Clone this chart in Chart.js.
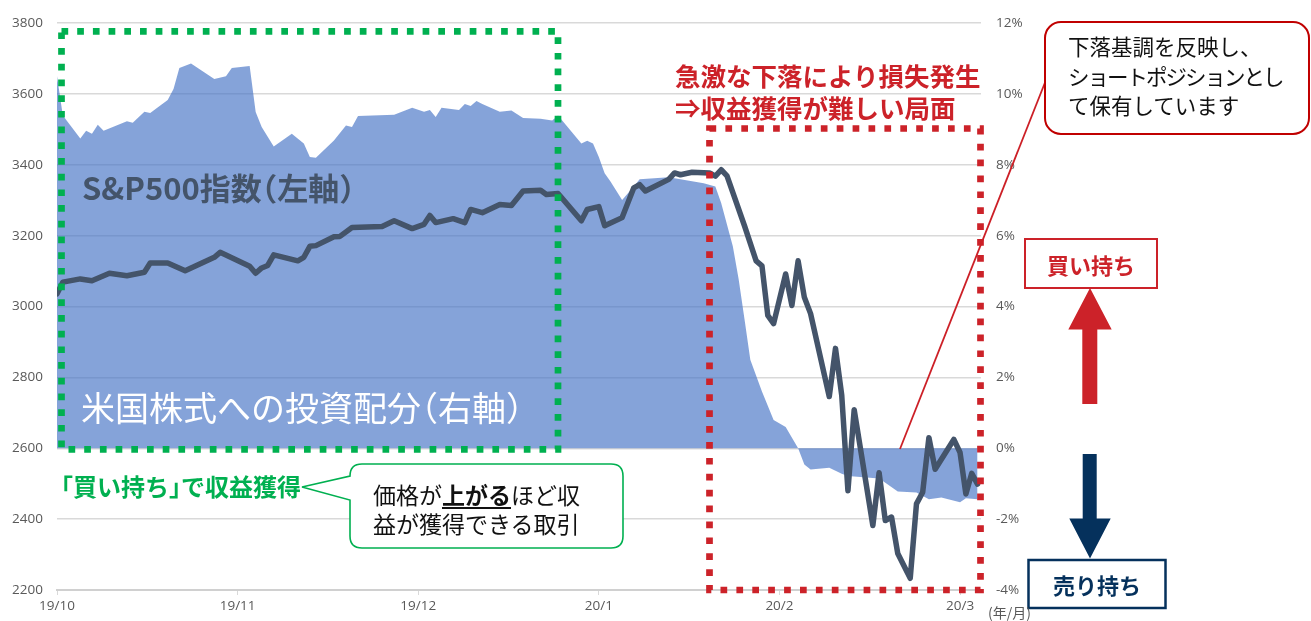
<!DOCTYPE html>
<html>
<head>
<meta charset="utf-8">
<script src="https://cdn.jsdelivr.net/npm/chart.js@4"></script>
<style>
  html, body { margin:0; padding:0; background:#fff; }
  #wrap { position:relative; width:1311px; height:621px; overflow:hidden; }
  #c { position:absolute; left:0; top:0; }
  svg { position:absolute; left:0; top:0; pointer-events:none; }
  .t { position:absolute; white-space:nowrap; font-family:"Noto Sans CJK JP","Noto Sans",sans-serif; }
  .h { font-feature-settings:"halt" 1; }
</style>
</head>
<body>
<div id="wrap">
  <canvas id="c" width="1311" height="621"></canvas>
  <svg width="1311" height="621" viewBox="0 0 1311 621">
    <!-- green dotted frame -->
    <rect x="61.5" y="31.3" width="496.5" height="418" fill="none" stroke="#00b050" stroke-width="6.7" stroke-dasharray="6.7 9"/>
    <!-- red dotted frame -->
    <rect x="709.5" y="128.5" width="271" height="461.5" fill="none" stroke="#cc2229" stroke-width="6.7" stroke-dasharray="6.7 9.2"/>
    <!-- green callout -->
    <path d="M362 464 H611 Q623 464 623 476 V536 Q623 548 611 548 H362 Q350 548 350 536 V500 L302 487 L350 476 Q350 464 362 464 Z" fill="#fff" stroke="#00b050" stroke-width="1.6"/>
    <!-- red pointer line -->
    <line x1="1046" y1="80" x2="900" y2="449" stroke="#cc1f26" stroke-width="1.8"/>
    <!-- red callout -->
    <rect x="1045" y="22" width="264" height="112" rx="16" ry="16" fill="#fff" stroke="#c00000" stroke-width="2"/>
    <!-- buy box -->
    <rect x="1025" y="239" width="132" height="49" fill="#fff" stroke="#cc2229" stroke-width="2"/>
    <!-- red up arrow -->
    <polygon points="1090,288 1111.7,329.5 1097.3,329.5 1097.3,404 1082.3,404 1082.3,329.5 1068.3,329.5" fill="#cc2229"/>
    <!-- navy down arrow -->
    <polygon points="1082.7,454 1096.7,454 1096.7,518.5 1110.7,518.5 1090,558.5 1069.3,518.5 1082.7,518.5" fill="#05315c"/>
    <!-- sell box -->
    <rect x="1028.5" y="560" width="137" height="48" fill="#fff" stroke="#05315c" stroke-width="2.5"/>
  </svg>

  <div class="t" style="left:82px;top:168px;font-size:31px;line-height:38px;font-weight:700;color:#44546a;">S&amp;P500指数<span class="h">（</span>左軸<span class="h">）</span></div>
  <div class="t" style="left:81px;top:386px;font-size:34px;line-height:42px;font-weight:400;color:#fff;">米国株式への投資配分<span class="h">（</span>右軸<span class="h">）</span></div>
  <div class="t" style="left:675px;top:59px;font-size:25.5px;line-height:32px;font-weight:700;color:#cc2229;">急激な下落により損失発生<br>⇒収益獲得が難しい局面</div>
  <div class="t" style="left:61px;top:472px;font-size:24px;line-height:28px;font-weight:700;color:#00b050;"><span class="h">「</span>買い持ち<span class="h">」</span>で収益獲得</div>
  <div class="t" style="left:373px;top:480px;font-size:23px;line-height:28.5px;color:#111;">価格が<b style="text-decoration:underline;text-underline-offset:3px;">上がる</b>ほど収<br>益が獲得できる取引</div>
  <div class="t" style="left:1068px;top:31px;font-size:21.5px;line-height:29.5px;color:#111;">下落基調を反映し、<br><span style="letter-spacing:-2px;">ショートポジションとし</span><br>て保有しています</div>
  <div class="t" style="left:1025px;top:250px;width:132px;text-align:center;font-size:22px;line-height:28px;font-weight:700;color:#cc2229;">買い持ち</div>
  <div class="t" style="left:1028.5px;top:570px;width:137px;text-align:center;font-size:22px;line-height:28px;font-weight:700;color:#05315c;">売り持ち</div>
  <div class="t" style="left:988px;top:602px;font-size:14px;line-height:20px;color:#595959;">(年/月)</div>
</div>

<script>
// ---- data ----
const monthLabels = ['19/10', '19/11', '19/12', '20/1', '20/2', '20/3'];

const spDates = [
  '2019-10-01','2019-10-02','2019-10-05','2019-10-07','2019-10-10','2019-10-13','2019-10-16','2019-10-17',
  '2019-10-20','2019-10-23','2019-10-28','2019-10-29','2019-11-03','2019-11-04','2019-11-05','2019-11-06',
  '2019-11-07','2019-11-11','2019-11-12','2019-11-13','2019-11-14','2019-11-17','2019-11-18','2019-11-20',
  '2019-11-25','2019-11-27','2019-11-30','2019-12-02','2019-12-03','2019-12-04','2019-12-07','2019-12-09',
  '2019-12-10','2019-12-12','2019-12-15','2019-12-17','2019-12-19','2019-12-22','2019-12-23','2019-12-25',
  '2019-12-29','2019-12-30','2020-01-01','2020-01-02','2020-01-05','2020-01-07','2020-01-08','2020-01-09',
  '2020-01-13','2020-01-14','2020-01-15','2020-01-17','2020-01-20','2020-01-21','2020-01-22','2020-01-23',
  '2020-01-26','2020-01-28','2020-01-29','2020-01-30','2020-01-31','2020-02-02','2020-02-03','2020-02-04',
  '2020-02-05','2020-02-06','2020-02-09','2020-02-10','2020-02-11','2020-02-12','2020-02-13','2020-02-16',
  '2020-02-17','2020-02-18','2020-02-19','2020-02-20','2020-02-22','2020-02-23','2020-02-24','2020-02-25',
  '2020-02-26','2020-02-29','2020-03-01','2020-03-02','2020-03-03','2020-03-04'
];
const spValues = [
  3036, 3069, 3078, 3073, 3094, 3087, 3097, 3123,
  3123, 3101, 3139, 3153, 3114, 3094, 3109, 3116,
  3146, 3129, 3139, 3170, 3172, 3197, 3198, 3223,
  3226, 3242, 3220, 3232, 3257, 3237, 3248, 3237,
  3274, 3265, 3288, 3285, 3326, 3328, 3316, 3319,
  3242, 3274, 3282, 3228, 3251, 3335, 3344, 3326,
  3359, 3377, 3372, 3379, 3377, 3368, 3386, 3369,
  3228, 3129, 3115, 2975, 2952, 3092, 3003, 3129,
  3026, 2980, 2746, 2882, 2750, 2480, 2709, 2382,
  2531, 2396, 2406, 2303, 2233, 2443, 2476, 2630,
  2541, 2625, 2588, 2471, 2529, 2499
];

const allocDates = [
  '2019-10-01','2019-10-02','2019-10-05','2019-10-06','2019-10-07','2019-10-08','2019-10-09','2019-10-13',
  '2019-10-14','2019-10-16','2019-10-17','2019-10-20','2019-10-21','2019-10-22','2019-10-24','2019-10-28',
  '2019-10-30','2019-10-31','2019-11-03','2019-11-04','2019-11-05','2019-11-07','2019-11-10','2019-11-12',
  '2019-11-13','2019-11-14','2019-11-17','2019-11-19','2019-11-20','2019-11-21','2019-11-27','2019-11-30',
  '2019-12-02','2019-12-03','2019-12-04','2019-12-05','2019-12-08','2019-12-09','2019-12-10','2019-12-11',
  '2019-12-12','2019-12-15','2019-12-17','2019-12-19','2019-12-22','2019-12-24','2019-12-25','2019-12-29',
  '2019-12-30','2019-12-31','2020-01-01','2020-01-02','2020-01-03','2020-01-05','2020-01-07','2020-01-08',
  '2020-01-13','2020-01-19','2020-01-21','2020-01-22','2020-01-24','2020-01-25','2020-01-26','2020-01-27',
  '2020-01-29','2020-01-31','2020-02-02','2020-02-04','2020-02-05','2020-02-06','2020-02-09','2020-02-11',
  '2020-02-12','2020-02-17','2020-02-18','2020-02-20','2020-02-23','2020-02-25','2020-02-27','2020-03-01',
  '2020-03-02','2020-03-04'
];
const allocValues = [
  10.5, 9.39, 8.74, 8.96, 8.88, 9.13, 8.96, 9.23,
  9.19, 9.5, 9.46, 9.83, 10.14, 10.73, 10.86, 10.42,
  10.5, 10.73, 10.79, 9.49, 9.07, 8.52, 8.88, 8.6,
  8.22, 8.2, 8.69, 9.11, 9.07, 9.38, 9.41, 9.61,
  9.5, 9.55, 9.35, 9.61, 9.55, 9.72, 9.66, 9.8,
  9.72, 9.5, 9.53, 9.32, 9.3, 9.25, 9.39, 8.6,
  8.68, 8.6, 8.22, 7.76, 7.53, 7.01, 7.39, 7.59,
  7.65, 7.48, 7.39, 6.92, 5.7, 4.77, 3.65, 2.5,
  1.6, 0.8, 0.6, 0.0, -0.46, -0.6, -0.55, -0.72,
  -0.78, -0.85, -0.97, -1.22, -1.25, -1.44, -1.39, -1.52,
  -1.41, -1.44
];

// month-based position (one unit per month, starting 2019/10)
function monthPos(s) {
  const [y, m, d] = s.split('-').map(Number);
  const dim = new Date(y, m, 0).getDate();
  return (y - 2019) * 12 + (m - 10) + (d - 1) / dim;
}

const tickFont = { family: 'Open Sans', size: 13.5 };
const tickColor = '#595959';

new Chart(document.getElementById('c'), {
  type: 'line',
  data: {
    datasets: [
      {
        label: 'S&P500',
        data: spDates.map((d, i) => ({ x: monthPos(d), y: spValues[i] })),
        yAxisID: 'y',
        borderColor: '#44546a',
        borderWidth: 5.5,
        pointRadius: 0,
        tension: 0,
        fill: false,
        borderJoinStyle: 'round',
        borderCapStyle: 'round'
      },
      {
        label: 'alloc',
        data: allocDates.map((d, i) => ({ x: monthPos(d), y: allocValues[i] })),
        yAxisID: 'y2',
        backgroundColor: 'rgba(68,114,196,0.65)',
        borderColor: 'rgba(0,0,0,0)',
        borderWidth: 0,
        pointRadius: 0,
        tension: 0,
        fill: 'origin'
      }
    ]
  },
  options: {
    responsive: false,
    devicePixelRatio: 1,
    animation: false,
    layout: { padding: { top: 19, left: 0, right: 0, bottom: 0 } },
    plugins: { legend: { display: false }, tooltip: { enabled: false } },
    scales: {
      x: {
        type: 'linear',
        min: 0,
        max: 5.116,
        afterBuildTicks: s => { s.ticks = monthLabels.map((_, i) => ({ value: i })); },
        afterFit: s => { s.height = 31; },
        ticks: {
          callback: (v, i) => monthLabels[i],
          color: tickColor, font: tickFont, padding: 3, maxRotation: 0, autoSkip: false
        },
        grid: { drawOnChartArea: false, drawTicks: true, tickLength: 5, color: '#d9d9d9' },
        border: { display: true, color: '#d0d0d0', width: 2 }
      },
      y: {
        position: 'left',
        min: 2200, max: 3800,
        afterFit: s => { s.width = 57; },
        ticks: { stepSize: 200, color: tickColor, font: tickFont, padding: 14, callback: v => String(v) },
        grid: { color: '#d9d9d9', lineWidth: 1.5, drawTicks: false },
        border: { display: false }
      },
      y2: {
        position: 'right',
        min: -4, max: 12,
        afterFit: s => { s.width = 330; },
        ticks: { stepSize: 2, color: tickColor, font: tickFont, padding: 15, callback: v => v + '%' },
        grid: { drawOnChartArea: false, drawTicks: false },
        border: { display: false }
      }
    }
  }
});
</script>
</body>
</html>
